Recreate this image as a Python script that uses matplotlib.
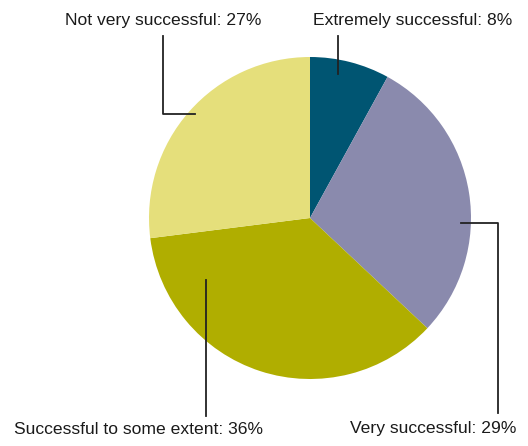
import matplotlib.pyplot as plt
from matplotlib import font_manager

# data
labels = ["Extremely successful", "Very successful",
          "Successful to some extent", "Not very successful"]
shares = [8, 29, 36, 27]
colors = ["#005572", "#8a8aad", "#b0ae00", "#e5df7b"]

W, H = 528, 446
fig = plt.figure(figsize=(W / 100, H / 100), dpi=100)
ax = fig.add_axes([0, 0, 1, 1])

names = {f.name for f in font_manager.fontManager.ttflist}
fam = "Liberation Sans Narrow" if "Liberation Sans Narrow" in names else "Liberation Sans"

cx, cy, r = 310, H - 218, 161
ax.pie(shares, colors=colors, startangle=90, counterclock=False,
       center=(cx, cy), radius=r, frame=True,
       wedgeprops=dict(linewidth=0))
ax.set_xlim(0, W)
ax.set_ylim(0, H)
ax.set_aspect("equal")
ax.axis("off")

def py(y):
    return H - y

lk = dict(color="#222222", lw=1.3)
# leader lines (pixel coords from top)
ax.plot([195, 163, 163], [py(114), py(114), py(36)], **lk)
ax.plot([338, 338], [py(74), py(36)], **lk)
ax.plot([461, 498, 498], [py(223), py(223), py(413)], **lk)
ax.plot([206, 206], [py(280), py(416)], **lk)

tk = dict(fontsize=12.6, family=fam, color="#1a1a1a")
ax.text(163, py(20), f"{labels[3]}: {shares[3]}%", ha="center", va="center", **tk)
ax.text(413, py(20), f"{labels[0]}: {shares[0]}%", ha="center", va="center", **tk)
ax.text(139, py(429), f"{labels[2]}: {shares[2]}%", ha="center", va="center", **tk)
ax.text(433, py(429), f"{labels[1]}: {shares[1]}%", ha="center", va="center", **tk)

fig.savefig("out.png", dpi=100)
